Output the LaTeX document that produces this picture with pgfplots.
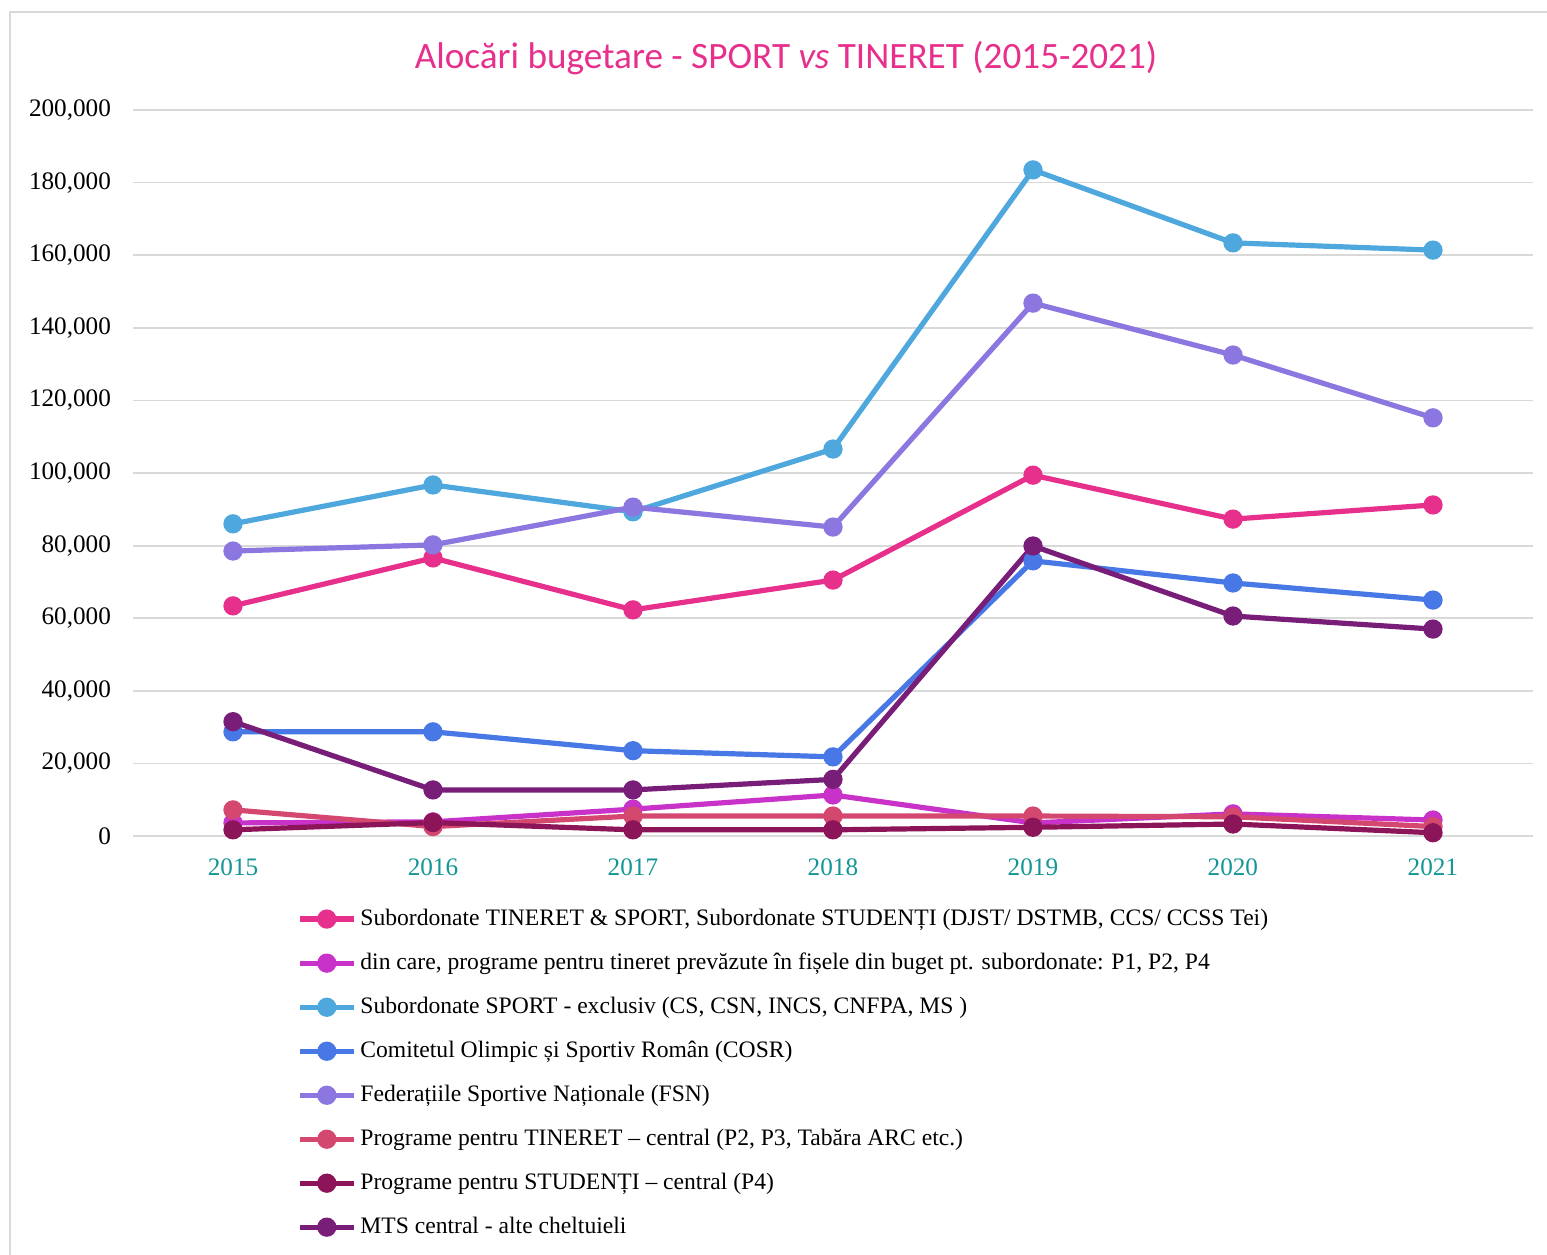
\documentclass[border=0pt]{standalone}
\usepackage{pgfplots}
\pgfplotsset{compat=1.18}
\usepackage{fontspec}
\setmainfont{Liberation Serif}
\newfontfamily\titlefont{Carlito}
\definecolor{cA}{RGB}{230,48,140}
\definecolor{cB}{RGB}{200,50,200}
\definecolor{cC}{RGB}{78,168,222}
\definecolor{cD}{RGB}{72,120,230}
\definecolor{cE}{RGB}{140,118,224}
\definecolor{cF}{RGB}{212,72,112}
\definecolor{cG}{RGB}{140,20,88}
\definecolor{cH}{RGB}{120,30,120}
\definecolor{teal2}{RGB}{20,150,150}
\definecolor{gridg}{RGB}{217,217,217}
\begin{document}
\begin{tikzpicture}
\path[use as bounding box] (0,0) rectangle (773.5pt,627pt);
\draw[gridg,line width=1pt] (5pt,-2pt) -- (5pt,621pt) -- (775pt,621pt);
\node[text=cA,font=\titlefont\fontsize{18.6}{21}\selectfont] at (393pt,598pt) {Alocări bugetare - SPORT \textit{vs} TINERET (2015-2021)};
\begin{axis}[
  at={(66.5pt,209pt)}, anchor=south west,
  scale only axis, width=700pt, height=363pt,
  xmin=2014.5, xmax=2021.5, ymin=0, ymax=200000,
  xtick={2015,...,2021}, ytick={0,20000,...,200000},
  ymajorgrids, major grid style={gridg,line width=0.9pt},
  axis line style={draw=none}, tick style={draw=none},
  scaled y ticks=false,
  /pgf/number format/assume math mode=true,
  yticklabel={\pgfmathprintnumber[fixed,1000 sep={,}]{\tick}},
  xticklabel={\pgfmathprintnumber[1000 sep={}]{\tick}},
  yticklabel style={font=\fontsize{12.6}{14}\selectfont, xshift=-7.5pt},
  xticklabel style={font=\fontsize{12.6}{14}\selectfont, text=teal2, yshift=-8pt},
  every axis plot/.append style={line width=2.6pt, mark=*, mark size=3.5pt},
  legend style={at={(0.117,-0.095)}, anchor=north west, draw=none, fill=none,
    font=\fontsize{11.8}{14}\selectfont, row sep=8.3pt, inner sep=0pt},
  legend cell align=left,
  legend image code/.code={\draw[#1,mark repeat=2,mark phase=2] plot coordinates {(0pt,0pt) (13.5pt,0pt) (27pt,0pt)};},
]
\addplot[color=cA] coordinates {(2015,63400) (2016,76600) (2017,62300) (2018,70500) (2019,99400) (2020,87300) (2021,91200)};
\addlegendentry{Subordonate TINERET \& SPORT, Subordonate STUDENȚI (DJST/ DSTMB, CCS/ CCSS Tei)}
\addplot[color=cB] coordinates {(2015,3600) (2016,3900) (2017,7400) (2018,11300) (2019,3600) (2020,6100) (2021,4400)};
\addlegendentry{din care, programe pentru tineret prevăzute în fișele din buget pt. subordonate: P1, P2, P4}
\addplot[color=cC] coordinates {(2015,86000) (2016,96700) (2017,89300) (2018,106600) (2019,183500) (2020,163400) (2021,161400)};
\addlegendentry{Subordonate SPORT - exclusiv (CS, CSN, INCS, CNFPA, MS )}
\addplot[color=cD] coordinates {(2015,28700) (2016,28700) (2017,23500) (2018,21800) (2019,75800) (2020,69700) (2021,65000)};
\addlegendentry{Comitetul Olimpic și Sportiv Român (COSR)}
\addplot[color=cE] coordinates {(2015,78500) (2016,80200) (2017,90600) (2018,85100) (2019,146800) (2020,132500) (2021,115200)};
\addlegendentry{Federațiile Sportive Naționale (FSN)}
\addplot[color=cF] coordinates {(2015,7200) (2016,2600) (2017,5500) (2018,5500) (2019,5500) (2020,5300) (2021,2600)};
\addlegendentry{Programe pentru TINERET – central (P2, P3, Tabăra ARC etc.)}
\addplot[color=cG] coordinates {(2015,1700) (2016,3700) (2017,1700) (2018,1700) (2019,2400) (2020,3300) (2021,900)};
\addlegendentry{Programe pentru STUDENȚI – central (P4)}
\addplot[color=cH] coordinates {(2015,31500) (2016,12700) (2017,12700) (2018,15600) (2019,79900) (2020,60600) (2021,57000)};
\addlegendentry{MTS central - alte cheltuieli}
\end{axis}
\end{tikzpicture}
\end{document}
